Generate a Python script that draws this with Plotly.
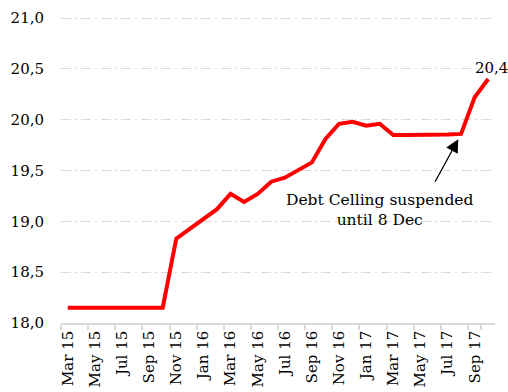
import plotly.graph_objects as go

# Monthly series, Mar 2015 - Oct 2017 (trillion USD)
months = [
    "Mar 15", "Apr 15", "May 15", "Jun 15", "Jul 15", "Aug 15", "Sep 15", "Oct 15",
    "Nov 15", "Dec 15", "Jan 16", "Feb 16", "Mar 16", "Apr 16", "May 16", "Jun 16",
    "Jul 16", "Aug 16", "Sep 16", "Oct 16", "Nov 16", "Dec 16", "Jan 17", "Feb 17",
    "Mar 17", "Apr 17", "May 17", "Jun 17", "Jul 17", "Aug 17", "Sep 17", "Oct 17",
]
debt = [
    18.15, 18.15, 18.15, 18.15, 18.15, 18.15, 18.15, 18.15,
    18.83, 18.93, 19.02, 19.12, 19.27, 19.19, 19.27, 19.39,
    19.43, 19.51, 19.58, 19.81, 19.96, 19.98, 19.94, 19.96,
    19.85, 19.85, 19.85, 19.85, 19.855, 19.86, 20.22, 20.40,
]
tick_labels = months[::2]

FONT = "DejaVu Serif"
GRID = "#d9d9d9"

fig = go.Figure()
fig.add_trace(go.Scatter(
    x=months, y=debt, mode="lines",
    line=dict(color="#ff0000", width=4),
    hoverinfo="skip", showlegend=False,
))

# value label on the last point
last_label = f"{debt[-1]:.1f}".replace(".", ",")
fig.add_annotation(
    x=months[-1], y=debt[-1], text=last_label, showarrow=False,
    xanchor="center", yanchor="middle", xshift=3, yshift=11,
    font=dict(family=FONT, size=15, color="#000000"),
)

# debt ceiling note with arrow
fig.add_annotation(
    x=28.79, y=19.807, xref="x", yref="y", text="", showarrow=True,
    ax=-24, ay=44, arrowhead=2, arrowsize=2.0, arrowwidth=1.3,
    arrowcolor="#000000",
)
fig.add_annotation(
    x=22.95, y=19.11, text="Debt Celling suspended<br>until 8 Dec",
    showarrow=False, xanchor="center", yanchor="middle", align="center",
    font=dict(family=FONT, size=15.5, color="#000000"),
)

fig.update_layout(
    width=508, height=392,
    margin=dict(l=61, r=13, t=16, b=69),
    paper_bgcolor="white", plot_bgcolor="white",
    separators=", ",
    font=dict(family=FONT, size=15, color="#000000"),
)
fig.update_xaxes(
    type="category", range=[-0.5, len(months) - 0.5],
    tickmode="array", tickvals=tick_labels, ticktext=tick_labels,
    tickson="boundaries", tickangle=-90, automargin=False,
    showgrid=False, showline=True, linecolor=GRID, linewidth=1.5,
    ticks="outside", ticklen=5, tickcolor=GRID, tickwidth=1.5,
    tickfont=dict(family=FONT, size=15, color="#000000"),
)
fig.update_yaxes(
    range=[18, 21.02], dtick=0.5, tick0=18, tickformat=".1f",
    showgrid=True, gridcolor=GRID, gridwidth=1.4,
    griddash="10px,4px,2px,4px", automargin=False,
    zeroline=False, showline=False, ticks="",
    ticklabelstandoff=16,
    tickfont=dict(family=FONT, size=15, color="#000000"),
)

fig.write_html("out.html")
